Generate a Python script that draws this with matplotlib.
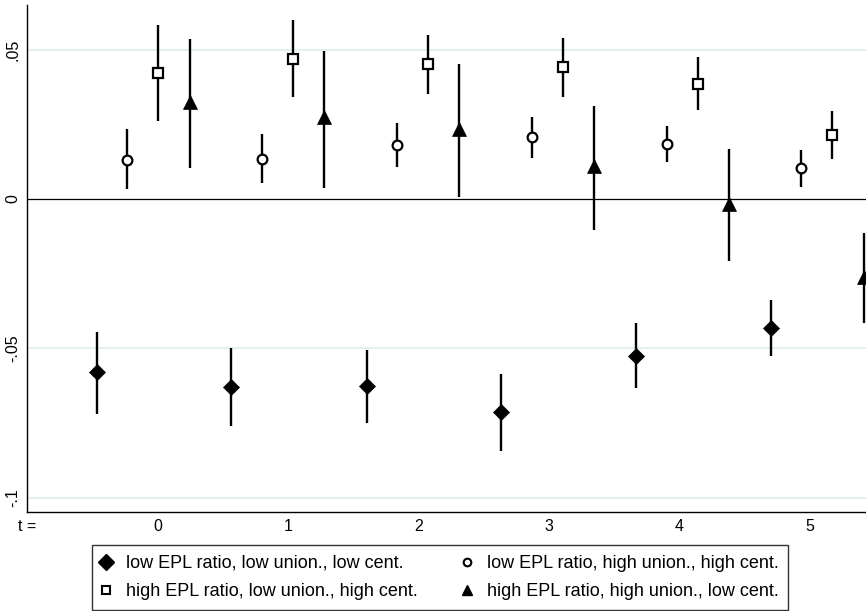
import matplotlib
matplotlib.use("Agg")
import matplotlib.pyplot as plt
from matplotlib.lines import Line2D

plt.rcParams['font.family'] = ['Liberation Sans Narrow', 'Liberation Sans', 'DejaVu Sans']

# low EPL ratio, low union., low cent. (diamonds)
x_d = [-0.467, 0.567, 1.609, 2.636, 3.670, 4.705]
est_d = [-0.0580, -0.0629, -0.0625, -0.0712, -0.0524, -0.0430]
lo_d = [-0.0720, -0.0758, -0.0748, -0.0843, -0.0633, -0.0525]
hi_d = [-0.0446, -0.0499, -0.0505, -0.0585, -0.0414, -0.0338]

# low EPL ratio, high union., high cent. (circles)
x_c = [-0.230, 0.805, 1.839, 2.874, 3.908, 4.935]
est_c = [0.0130, 0.0134, 0.0181, 0.0208, 0.0183, 0.0104]
lo_c = [0.0032, 0.0052, 0.0108, 0.0138, 0.0123, 0.0041]
hi_c = [0.0234, 0.0217, 0.0253, 0.0275, 0.0245, 0.0163]

# high EPL ratio, low union., high cent. (squares)
x_s = [0.008, 1.042, 2.077, 3.111, 4.146, 5.172]
est_s = [0.0420, 0.0469, 0.0450, 0.0441, 0.0386, 0.0214]
lo_s = [0.0262, 0.0340, 0.0351, 0.0342, 0.0297, 0.0135]
hi_s = [0.0581, 0.0599, 0.0550, 0.0540, 0.0474, 0.0293]

# high EPL ratio, high union., low cent. (triangles)
x_t = [0.253, 1.280, 2.314, 3.349, 4.383, 5.418]
est_t = [0.0324, 0.0273, 0.0234, 0.0111, -0.0016, -0.0262]
lo_t = [0.0103, 0.0038, 0.0008, -0.0104, -0.0206, -0.0416]
hi_t = [0.0534, 0.0496, 0.0452, 0.0312, 0.0166, -0.0113]

labels = ["low EPL ratio, low union., low cent.",
          "high EPL ratio, low union., high cent.",
          "low EPL ratio, high union., high cent.",
          "high EPL ratio, high union., low cent."]

x_ticks = [-1, 0, 1, 2, 3, 4, 5]
x_ticklabels = ["t =", "0", "1", "2", "3", "4", "5"]
y_ticks = [-0.1, -0.05, 0, 0.05]
y_ticklabels = ["-.1", "-.05", "0", ".05"]

fig = plt.figure(figsize=(8.66, 6.11), dpi=100)
ax = fig.add_axes([27 / 866, 99 / 611, 839 / 866, 507 / 611])

for yv in [-0.1, -0.05, 0.05]:
    ax.axhline(yv, color='#e6eef0', lw=1.5, zorder=0)
ax.axhline(0, color='black', lw=0.9, zorder=1)


def draw(x, est, lo, hi, marker, ms, face, mew):
    err = [[e - l for e, l in zip(est, lo)], [h - e for e, h in zip(est, hi)]]
    ax.errorbar(x, est, yerr=err, fmt=marker, ms=ms, mfc=face, mec='black',
                mew=mew, ecolor='black', elinewidth=1.7, capsize=0, zorder=3)


draw(x_d, est_d, lo_d, hi_d, 'D', 8.6, 'black', 0.5)
draw(x_c, est_c, lo_c, hi_c, 'o', 7.0, 'white', 1.6)
draw(x_s, est_s, lo_s, hi_s, 's', 7.4, 'white', 1.6)
draw(x_t, est_t, lo_t, hi_t, '^', 9.8, 'black', 0.5)

ax.set_xlim(-1, 5.433)
ax.set_ylim(-0.1047, 0.0649)
ax.set_xticks(x_ticks)
ax.set_xticklabels(x_ticklabels)
ax.set_yticks(y_ticks)
ax.set_yticklabels(y_ticklabels, rotation=90, va='center')
ax.tick_params(axis='both', length=0, labelsize=11.5)
ax.tick_params(axis='x', pad=5)
ax.tick_params(axis='y', pad=5)

for s in ['top', 'right']:
    ax.spines[s].set_visible(False)
for s in ['left', 'bottom']:
    ax.spines[s].set_linewidth(1.0)

handles = [
    Line2D([], [], ls='none', marker='D', ms=8.0, mfc='black', mec='black'),
    Line2D([], [], ls='none', marker='s', ms=5.5, mfc='white', mec='black', mew=1.5),
    Line2D([], [], ls='none', marker='o', ms=5.5, mfc='white', mec='black', mew=1.5),
    Line2D([], [], ls='none', marker='^', ms=7.5, mfc='black', mec='black'),
]
leg = fig.legend(handles, labels, ncol=2, loc='upper center',
                 bbox_to_anchor=(440 / 866, 1 - 545 / 611), borderaxespad=0,
                 fontsize=13, frameon=True, fancybox=False, edgecolor='black',
                 handlelength=0.45, handletextpad=0.88, columnspacing=2.5,
                 borderpad=0.55, labelspacing=0.61)
leg.get_frame().set_linewidth(1.0)

fig.savefig("out.png", dpi=100)
